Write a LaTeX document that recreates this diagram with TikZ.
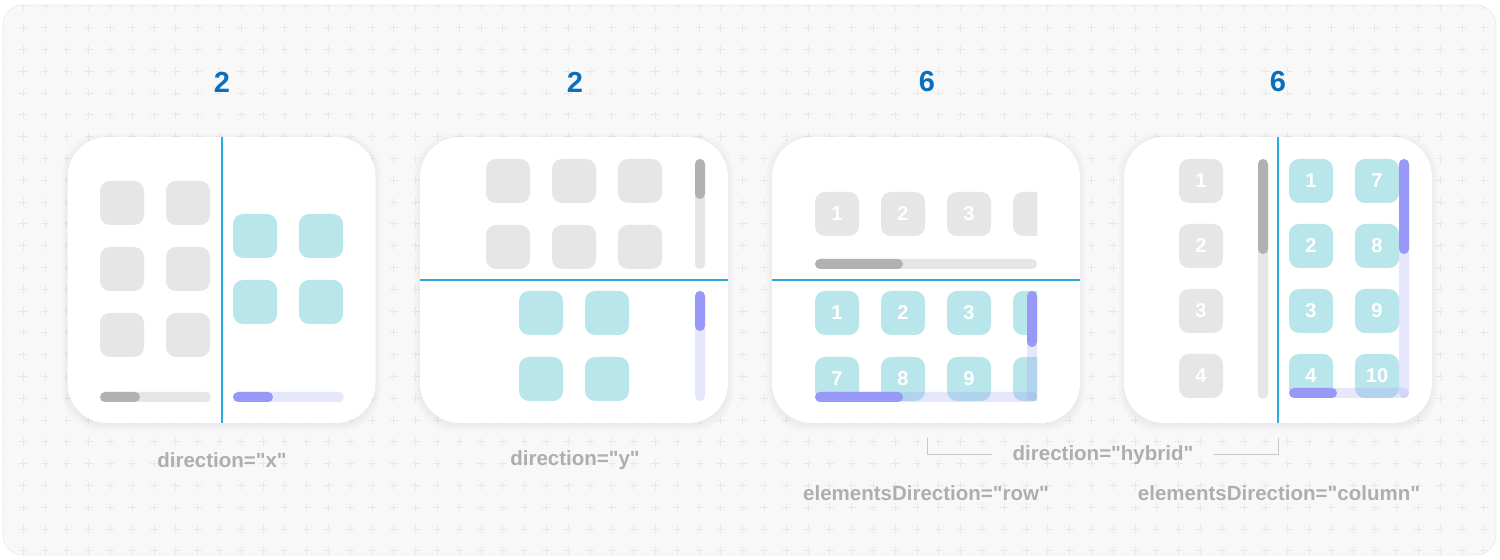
\documentclass[tikz,border=0pt]{standalone}
\usepackage{fontspec}
\setmainfont{Liberation Sans}[Ligatures=TeXOff]
\definecolor{bgfill}{RGB}{248,248,248}
\definecolor{bgline}{RGB}{236,236,236}
\definecolor{plusgrey}{RGB}{232,232,232}
\definecolor{countblue}{RGB}{10,112,190}
\definecolor{divblue}{RGB}{42,169,224}
\definecolor{tilegrey}{RGB}{230,230,230}
\definecolor{tileteal}{RGB}{185,230,235}
\definecolor{thumbgrey}{RGB}{177,177,177}
\definecolor{lavthumb}{RGB}{152,152,249}
\definecolor{captiongrey}{RGB}{174,174,174}
\definecolor{bracketgrey}{RGB}{200,200,200}

\begin{document}
\begin{tikzpicture}[x=0.5pt,y=-0.5pt,
  card/.style={fill=white, rounded corners=20pt, minimum width=154pt, minimum height=143pt, inner sep=0pt},
  cardshade/.style={fill=black, opacity=0.008, rounded corners=20pt},
  greytile/.style={fill=tilegrey, rounded corners=5pt, minimum size=22pt, inner sep=0pt, text=white,
    font=\fontsize{10}{12}\selectfont\bfseries},
  tealtile/.style={greytile, fill=tileteal},
  count/.style={text=countblue, font=\fontsize{14.5}{16}\selectfont\bfseries},
  caption/.style={text=captiongrey, font=\fontsize{10.25}{12}\selectfont\bfseries},
  divider/.style={draw=divblue, line width=1pt},
  greytrack/.style={fill=tilegrey, rounded corners=2.5pt},
  greythumb/.style={fill=thumbgrey, rounded corners=2.5pt},
  lavtrack/.style={fill=lavthumb, fill opacity=0.24, rounded corners=2.5pt},
  lavbar/.style={fill=lavthumb, rounded corners=2.5pt},
  plus/.style={draw=plusgrey, line width=0.5pt},
  bracket/.style={draw=bracketgrey, line width=0.5pt}]
\useasboundingbox (0,0) rectangle (1500,560);
\draw[fill=bgfill, draw=bgline, rounded corners=10pt] (3,5) rectangle (1496,555);
\begin{scope}
\clip[rounded corners=10pt] (3,5) rectangle (1496,555);
\foreach \i in {0,...,68}
  \foreach \j in {0,...,25}
    \draw[plus, shift={({1.4+21.8*\i},{6+21.8*\j})}] (-4,0) -- (4,0) (0,-4) -- (0,4);
\end{scope}

\node[count] (n1) at (222,82) {2};
\node[count] (n2) at (575,82) {2};
\node[count] (n3) at (927,82) {6};
\node[count] (n4) at (1278,82) {6};

\foreach \cx in {221.5,574,926,1278}
  \foreach \d in {1,...,6}
    \fill[cardshade] ({\cx-154-\d},{137-\d+2}) rectangle ({\cx+154+\d},{423+\d+2});
\node[card] (c1) at (221.5,280) {};
\node[card] (c2) at (574,280) {};
\node[card] (c3) at (926,280) {};
\node[card] (c4) at (1278,280) {};

\foreach \x [count=\k] in {122,188}
  \foreach \y [count=\r] in {203,269,335}
    \node[greytile] (pa-g\k\r) at (\x,\y) {};
\foreach \x [count=\k] in {255,321}
  \foreach \y [count=\r] in {236,302}
    \node[tealtile] (pa-t\k\r) at (\x,\y) {};
\fill[greytrack] (100,392) rectangle (211,402);
\fill[greythumb] (100,392) rectangle (140,402);
\fill[lavtrack] (233,392) rectangle (344,402);
\fill[lavbar] (233,392) rectangle (273,402);
\draw[divider] (222,137) -- (222,423);

\foreach \x [count=\k] in {508,574,640}
  \foreach \y [count=\r] in {181,247}
    \node[greytile] (pb-g\k\r) at (\x,\y) {};
\foreach \x [count=\k] in {541,607}
  \foreach \y [count=\r] in {313,379}
    \node[tealtile] (pb-t\k\r) at (\x,\y) {};
\fill[greytrack] (695,159) rectangle (705,269);
\fill[greythumb] (695,159) rectangle (705,199);
\fill[lavtrack] (695,291) rectangle (705,401);
\fill[lavbar] (695,291) rectangle (705,331);
\draw[divider] (420,280) -- (728,280);

\begin{scope}
\clip (772,137) rectangle (1037,423);
\foreach \x/\n [count=\k] in {837/1,903/2,969/3,1035/{}}
  \node[greytile] (pc-g\k) at (\x,214) {\n};
\foreach \x/\n/\m [count=\k] in {837/1/7,903/2/8,969/3/9,1035/{}/{}} {
  \node[tealtile] (pc-t\k) at (\x,313) {\n};
  \node[tealtile] (pc-b\k) at (\x,379) {\m};
}
\end{scope}
\fill[greytrack] (815,259) rectangle (1037,269);
\fill[greythumb] (815,259) rectangle (903,269);
\fill[lavtrack] (1027,291) rectangle (1037,401);
\fill[lavtrack] (815,392) rectangle (1037,402);
\fill[lavbar] (1027,291) rectangle (1037,347);
\fill[lavbar] (815,392) rectangle (903,402);
\draw[divider] (772,280) -- (1080,280);

\foreach \y/\n/\m [count=\k] in {181/1/7,246/2/8,311/3/9,376/4/10} {
  \node[greytile] (pd-g\k) at (1201,\y) {\n};
  \node[tealtile] (pd-l\k) at (1311,\y) {\n};
  \node[tealtile] (pd-r\k) at (1377,\y) {\m};
}
\fill[greytrack] (1258,159) rectangle (1268,399);
\fill[greythumb] (1258,159) rectangle (1268,254);
\fill[lavtrack] (1399,159) rectangle (1409,398);
\fill[lavtrack] (1289,388) rectangle (1409,398);
\fill[lavbar] (1399,159) rectangle (1409,254);
\fill[lavbar] (1289,388) rectangle (1337,398);
\draw[divider] (1278,137) -- (1278,423);

\node[caption] (dx) at (222,460) {direction="x"};
\node[caption] (dy) at (575,460) {direction="y"};
\node[caption] (dh) at (1103,455) {direction="hybrid"};
\node[caption] (er) at (926,493) {elementsDirection="row"};
\node[caption] (ec) at (1279,493) {elementsDirection="column"};
\coordinate (bl) at (927,438);
\coordinate (br) at (1278,438);
\draw[bracket] (bl) |- ([xshift=-7pt]dh.west);
\draw[bracket] (br) |- ([xshift=7pt]dh.east);
\end{tikzpicture}
\end{document}
